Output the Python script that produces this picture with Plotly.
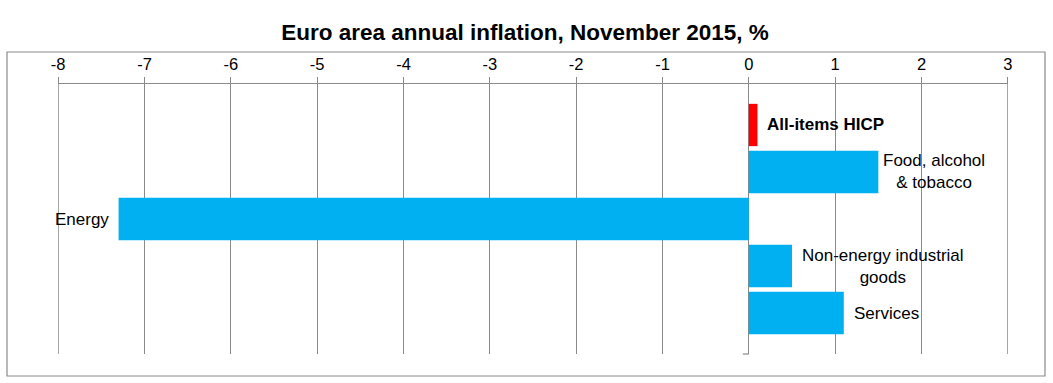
import plotly.graph_objects as go

categories = ["All-items HICP", "Food, alcohol & tobacco", "Energy",
              "Non-energy industrial goods", "Services"]
values = [0.1, 1.5, -7.3, 0.5, 1.1]
label_texts = ["<b>All-items HICP</b>", "Food, alcohol<br>& tobacco", "Energy",
               "Non-energy industrial<br>goods", "Services"]
tick_vals = [-8, -7, -6, -5, -4, -3, -2, -1, 0, 1, 2, 3]
tick_text = ["-8", "-7", "-6", "-5", "-4", "-3", "-2", "-1", "0", "1", "2", "3"]

bar_colors = ["#FF0000", "#00B0F0", "#00B0F0", "#00B0F0", "#00B0F0"]
bar_widths = [0.9, 0.9, 0.9, 0.9, 0.9]

# label placement (x in data units, anchor)
label_x = [0.19, 2.15, -7.39, 1.557, 1.2]
label_anchor = ["left", "center", "right", "center", "left"]

GRID = "#8A8A8A"
FONT = "Liberation Sans, Arial, sans-serif"

fig = go.Figure()
fig.add_trace(go.Bar(
    x=values, y=categories, orientation="h",
    marker=dict(color=bar_colors, line=dict(width=0)),
    width=bar_widths, hoverinfo="x+y",
))

annotations = []
for cat, txt, lx, anc in zip(categories, label_texts, label_x, label_anchor):
    annotations.append(dict(
        x=lx, y=cat, xref="x", yref="y", text=txt, showarrow=False,
        xanchor=anc, yanchor="middle", align="center",
        font=dict(family=FONT, size=17, color="#000000"),
    ))

shapes = [
    dict(type="rect", xref="paper", yref="paper",
         x0=(7 - 58) / 950, x1=(1045 - 58) / 950,
         y0=(354 - 376) / 270, y1=(354 - 52) / 270,
         line=dict(color=GRID, width=1.2), fillcolor="rgba(0,0,0,0)",
         layer="below"),
    dict(type="line", xref="x", yref="paper", x0=-0.07, x1=0, y0=0, y1=0,
         line=dict(color=GRID, width=1.2)),
]
# edge grid lines (plotly drops grid lines that sit on the plot edge)
for ev in (tick_vals[0], tick_vals[-1]):
    shapes.append(dict(type="line", xref="x", yref="paper", x0=ev, x1=ev,
                       y0=0, y1=1, line=dict(color=GRID, width=1.2),
                       layer="below"))

fig.update_layout(
    width=1053, height=383,
    margin=dict(l=58, r=45, t=84, b=29),
    paper_bgcolor="white", plot_bgcolor="white",
    showlegend=False,
    title=dict(text="<b>Euro area annual inflation, November 2015, %</b>",
               x=525 / 1053, xanchor="center", y=1 - 32 / 383, yanchor="middle",
               font=dict(family=FONT, size=22.5, color="#000000")),
    xaxis=dict(
        side="top", range=[-8.002, 3.002], tickvals=tick_vals, ticktext=tick_text,
        ticks="outside", ticklen=6, tickcolor=GRID, tickwidth=1.2,
        showline=True, linecolor=GRID, linewidth=1.2,
        showgrid=True, gridcolor=GRID, gridwidth=1.2,
        zeroline=True, zerolinecolor=GRID, zerolinewidth=1.2,
        tickfont=dict(family=FONT, size=16.5, color="#000000"),
        ticklabelstandoff=0,
        fixedrange=True,
    ),
    yaxis=dict(
        type="category", categoryorder="array", categoryarray=categories,
        range=[4.872, -0.872], showticklabels=False, showgrid=False,
        zeroline=False, showline=False, ticks="",
    ),
    annotations=annotations,
    shapes=shapes,
)

fig.write_html("out.html")
